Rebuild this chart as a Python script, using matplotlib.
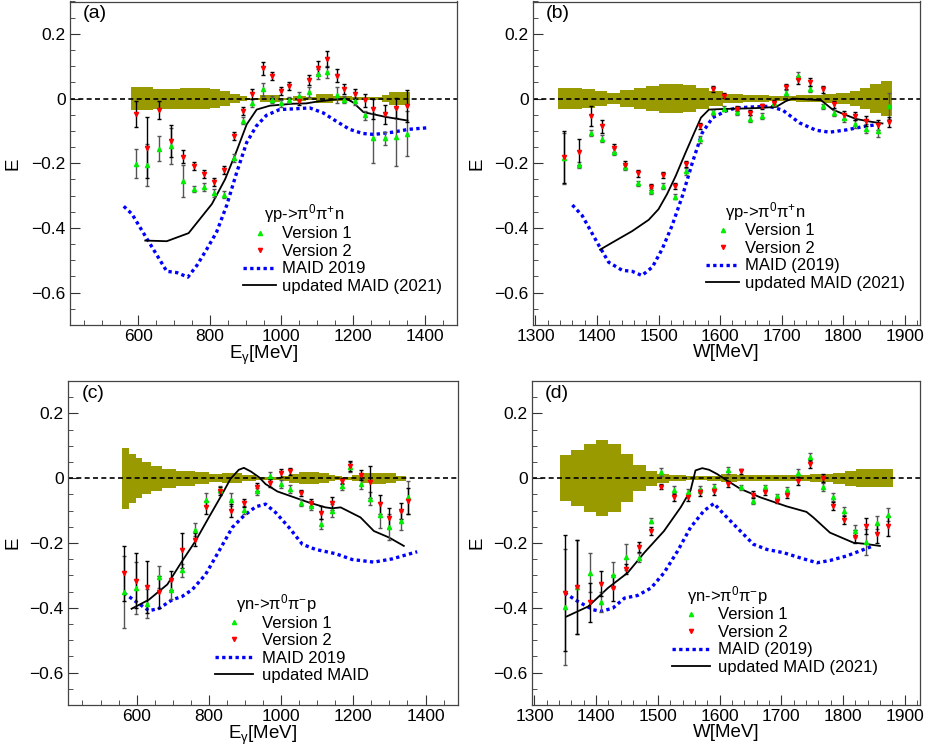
import matplotlib
matplotlib.use("Agg")
import matplotlib.pyplot as plt
from matplotlib.ticker import MultipleLocator, FuncFormatter
from matplotlib.lines import Line2D

plt.rcParams['font.family'] = ['Liberation Sans', 'DejaVu Sans']
plt.rcParams['mathtext.default'] = 'regular'

# ---- panel (a): gamma p -> pi0 pi+ n vs E_gamma ----
a_x = [593, 625, 659, 693, 724, 755, 784, 812, 841, 869, 894, 919, 949, 974, 999, 1022,
       1048, 1077, 1102, 1128, 1154, 1176, 1205, 1233, 1256, 1289, 1321, 1350]
a_v1 = [-0.201, -0.205, -0.155, -0.147, -0.254, -0.280, -0.273, -0.293, -0.297, -0.183,
        -0.068, -0.013, 0.028, -0.003, -0.015, -0.005, 0.009, 0.021, 0.075, 0.082, 0.012,
        -0.003, -0.009, -0.052, -0.123, -0.123, -0.119, -0.109]
a_v1_err = [0.045, 0.065, 0.038, 0.055, 0.05, 0.01, 0.012, 0.012, 0.01, 0.012, 0.012, 0.012,
            0.02, 0.012, 0.012, 0.01, 0.012, 0.015, 0.015, 0.02, 0.025, 0.012, 0.012, 0.015,
            0.077, 0.02, 0.09, 0.07]
a_v2 = [-0.047, -0.152, -0.036, -0.131, -0.180, -0.208, -0.234, -0.257, -0.220, -0.116,
        -0.039, 0.015, 0.094, 0.069, 0.023, 0.038, -0.008, 0.058, 0.095, 0.123, 0.071,
        0.030, 0.015, -0.006, -0.032, -0.049, -0.029, -0.024]
a_v2_err = [0.04, 0.095, 0.027, 0.05, 0.02, 0.012, 0.012, 0.012, 0.012, 0.012, 0.012, 0.015,
            0.02, 0.012, 0.012, 0.012, 0.012, 0.015, 0.02, 0.025, 0.02, 0.015, 0.015, 0.02,
            0.03, 0.03, 0.03, 0.05]
a_band_edges = [581, 643, 717, 801, 829, 856, 884, 903, 940, 995, 1031, 1069, 1097, 1143,
                1198, 1240, 1281, 1300, 1359]
a_band_hw = [0.036, 0.031, 0.033, 0.028, 0.022, 0.015, 0.008, 0.003, 0.01, 0.003, 0.008,
             0.004, 0.015, 0.008, 0.004, 0.005, 0.01, 0.02]
a_maid19_x = [560, 583, 625, 680, 708, 739, 764, 792, 819, 847, 875, 903, 930, 958, 995,
              1032, 1079, 1116, 1153, 1190, 1227, 1259, 1310, 1356, 1412]
a_maid19_y = [-0.333, -0.357, -0.434, -0.534, -0.538, -0.552, -0.516, -0.465, -0.413, -0.331,
              -0.229, -0.136, -0.085, -0.052, -0.034, -0.032, -0.029, -0.044, -0.070, -0.095,
              -0.108, -0.111, -0.104, -0.095, -0.090]
a_maid21_x = [620, 680, 741, 806, 843, 875, 903, 931, 968, 1032, 1069, 1102, 1150, 1180,
              1200, 1229, 1292, 1352]
a_maid21_y = [-0.439, -0.441, -0.416, -0.326, -0.249, -0.162, -0.080, -0.034, -0.022, -0.016,
              -0.015, -0.009, -0.003, 0.0, -0.012, -0.042, -0.057, -0.068]

# ---- panel (b): gamma p -> pi0 pi+ n vs W ----
b_x = [1346, 1371, 1390, 1408, 1427, 1446, 1466, 1487, 1507, 1527, 1545, 1568, 1588, 1607,
       1628, 1648, 1668, 1688, 1708, 1727, 1747, 1767, 1785, 1802, 1819, 1837, 1857, 1875]
b_v1 = [-0.185, -0.206, -0.106, -0.124, -0.164, -0.213, -0.262, -0.286, -0.270, -0.303,
        -0.225, -0.126, -0.042, -0.031, -0.042, -0.062, -0.054, -0.015, 0.017, 0.071, 0.030,
        -0.024, -0.044, -0.059, -0.078, -0.093, -0.100, -0.024]
b_v1_err = [0.08, 0.01, 0.01, 0.01, 0.01, 0.008, 0.008, 0.008, 0.01, 0.008, 0.01, 0.01,
            0.008, 0.008, 0.008, 0.01, 0.008, 0.008, 0.008, 0.012, 0.01, 0.008, 0.01, 0.012,
            0.012, 0.015, 0.02, 0.04]
b_v2 = [-0.180, -0.165, -0.054, -0.085, -0.154, -0.204, -0.231, -0.274, -0.237, -0.270,
        -0.202, -0.085, 0.030, 0.009, -0.031, -0.044, -0.024, -0.013, 0.036, 0.058, 0.052,
        0.028, -0.018, -0.050, -0.054, -0.070, -0.082, -0.073]
b_v2_err = [0.08, 0.04, 0.03, 0.02, 0.012, 0.01, 0.01, 0.01, 0.01, 0.01, 0.01, 0.01, 0.01,
            0.008, 0.008, 0.008, 0.008, 0.008, 0.008, 0.012, 0.012, 0.01, 0.01, 0.012, 0.012,
            0.015, 0.015, 0.015]
b_band_edges = [1337, 1376, 1397, 1416, 1438, 1460, 1479, 1501, 1539, 1561, 1582, 1604,
                1637, 1680, 1724, 1767, 1789, 1811, 1827, 1843, 1862, 1879]
b_band_hw = [0.033, 0.028, 0.022, 0.018, 0.025, 0.033, 0.039, 0.045, 0.042, 0.033, 0.023,
             0.015, 0.01, 0.007, 0.01, 0.013, 0.017, 0.023, 0.033, 0.045, 0.055]
b_maid19_x = [1360, 1376, 1403, 1419, 1441, 1457, 1473, 1490, 1506, 1522, 1539, 1555, 1571,
              1588, 1609, 1626, 1653, 1680, 1702, 1729, 1756, 1778, 1805, 1832, 1857]
b_maid19_y = [-0.329, -0.362, -0.454, -0.506, -0.531, -0.534, -0.547, -0.521, -0.465, -0.393,
              -0.300, -0.198, -0.106, -0.059, -0.039, -0.029, -0.026, -0.024, -0.036, -0.075,
              -0.098, -0.104, -0.097, -0.087, -0.080]
b_maid21_x = [1405, 1435, 1457, 1484, 1500, 1514, 1528, 1544, 1558, 1569, 1582, 1609, 1653,
              1691, 1707, 1718, 1764, 1783, 1802, 1821, 1843, 1864]
b_maid21_y = [-0.467, -0.434, -0.410, -0.375, -0.342, -0.295, -0.239, -0.167, -0.106, -0.059,
              -0.034, -0.032, -0.030, -0.026, -0.008, 0.0, -0.005, -0.034, -0.049, -0.063,
              -0.071, -0.077]

# ---- panel (c): gamma n -> pi0 pi- p vs E_gamma ----
c_x = [565, 599, 629, 662, 696, 726, 761, 791, 830, 862, 897, 932, 970, 999, 1025, 1054,
       1083, 1110, 1141, 1169, 1191, 1220, 1245, 1273, 1299, 1331, 1352]
c_v1 = [-0.351, -0.339, -0.387, -0.305, -0.344, -0.284, -0.159, -0.067, -0.035, -0.067,
        -0.097, -0.041, 0.008, -0.018, -0.033, -0.075, -0.085, -0.142, -0.100, -0.025, 0.034,
        -0.018, -0.064, -0.113, -0.150, -0.131, -0.059]
c_v1_err = [0.11, 0.08, 0.045, 0.035, 0.03, 0.02, 0.02, 0.02, 0.012, 0.02, 0.012, 0.01,
            0.012, 0.012, 0.012, 0.01, 0.012, 0.015, 0.02, 0.01, 0.015, 0.015, 0.02, 0.04,
            0.04, 0.03, 0.05]
c_v2 = [-0.294, -0.316, -0.335, -0.352, -0.315, -0.223, -0.190, -0.090, -0.040, -0.100,
        -0.077, -0.028, -0.014, 0.016, 0.021, -0.046, -0.075, -0.106, -0.077, -0.008, 0.037,
        0.010, -0.012, -0.081, -0.123, -0.101, -0.071]
c_v2_err = [0.085, 0.085, 0.08, 0.05, 0.03, 0.055, 0.02, 0.02, 0.012, 0.02, 0.012, 0.012,
            0.012, 0.012, 0.012, 0.01, 0.012, 0.02, 0.02, 0.01, 0.015, 0.015, 0.05, 0.03,
            0.03, 0.025, 0.04]
c_band_edges = [560, 580, 597, 616, 639, 671, 708, 763, 800, 837, 870, 893, 930, 966, 1000,
                1022, 1050, 1077, 1105, 1133, 1150, 1170, 1197, 1225, 1250, 1290, 1317, 1345]
c_band_hw = [0.094, 0.076, 0.061, 0.049, 0.039, 0.029, 0.023, 0.018, 0.013, 0.015, 0.015,
             0.01, 0.005, 0.005, 0.008, 0.014, 0.018, 0.019, 0.016, 0.01, 0.006, 0.005, 0.01,
             0.015, 0.017, 0.015, 0.008]
c_maid19_x = [565, 597, 634, 662, 699, 726, 754, 791, 828, 865, 897, 930, 957, 985, 1022,
              1059, 1096, 1151, 1197, 1257, 1308, 1345, 1377]
c_maid19_y = [-0.354, -0.380, -0.409, -0.402, -0.375, -0.365, -0.344, -0.297, -0.225, -0.152,
              -0.116, -0.088, -0.080, -0.106, -0.152, -0.204, -0.220, -0.233, -0.251, -0.259,
              -0.249, -0.237, -0.227]
c_maid21_x = [586, 634, 685, 726, 763, 800, 837, 860, 883, 897, 916, 939, 957, 990, 1031,
              1077, 1123, 1142, 1165, 1220, 1257, 1299, 1340]
c_maid21_y = [-0.403, -0.375, -0.328, -0.256, -0.194, -0.121, -0.049, -0.002, 0.026, 0.032,
              0.021, 0.003, -0.018, -0.041, -0.057, -0.075, -0.090, -0.093, -0.090, -0.121,
              -0.163, -0.183, -0.209]

# ---- panel (d): gamma n -> pi0 pi- p vs W ----
d_x = [1350, 1369, 1390, 1408, 1427, 1448, 1470, 1489, 1505, 1526, 1549, 1569, 1591, 1614,
       1635, 1655, 1674, 1693, 1709, 1727, 1746, 1767, 1784, 1802, 1820, 1838, 1856, 1873]
d_v1 = [-0.398, -0.335, -0.292, -0.382, -0.300, -0.242, -0.245, -0.131, 0.019, -0.035,
        -0.043, -0.035, -0.028, 0.024, -0.028, -0.069, -0.028, -0.056, -0.035, 0.017, 0.065,
        -0.028, -0.059, -0.102, -0.163, -0.196, -0.137, -0.113]
d_v1_err = [0.18, 0.145, 0.06, 0.03, 0.04, 0.04, 0.015, 0.008, 0.012, 0.01, 0.01, 0.01,
            0.01, 0.01, 0.008, 0.01, 0.008, 0.008, 0.008, 0.012, 0.012, 0.012, 0.012, 0.012,
            0.02, 0.04, 0.02, 0.02]
d_v2 = [-0.354, -0.335, -0.383, -0.325, -0.340, -0.280, -0.212, -0.163, -0.026, -0.059,
        -0.059, -0.044, -0.041, -0.018, 0.021, -0.051, -0.043, -0.069, -0.051, -0.009, 0.045,
        0.001, -0.085, -0.128, -0.181, -0.147, -0.171, -0.147]
d_v2_err = [0.18, 0.145, 0.06, 0.04, 0.04, 0.015, 0.015, 0.012, 0.008, 0.01, 0.01, 0.01,
            0.01, 0.008, 0.008, 0.01, 0.008, 0.008, 0.01, 0.012, 0.012, 0.012, 0.012, 0.012,
            0.02, 0.025, 0.03, 0.03]
d_band_edges = [1341, 1360, 1381, 1400, 1420, 1440, 1459, 1481, 1499, 1518, 1545, 1580,
                1602, 1628, 1666, 1709, 1747, 1784, 1803, 1822, 1881]
d_band_hw = [0.071, 0.087, 0.105, 0.117, 0.105, 0.074, 0.04, 0.023, 0.014, 0.01, 0.006,
             0.008, 0.012, 0.01, 0.009, 0.01, 0.013, 0.017, 0.023, 0.027]
d_maid19_x = [1349, 1370, 1395, 1408, 1427, 1446, 1467, 1489, 1510, 1532, 1553, 1575, 1591,
              1607, 1628, 1655, 1677, 1704, 1731, 1758, 1779, 1806, 1827, 1849]
d_maid19_y = [-0.354, -0.380, -0.406, -0.411, -0.401, -0.370, -0.362, -0.339, -0.292, -0.225,
              -0.152, -0.100, -0.078, -0.111, -0.152, -0.204, -0.220, -0.230, -0.246, -0.261,
              -0.254, -0.240, -0.225, -0.209]
d_maid21_x = [1352, 1387, 1419, 1451, 1478, 1510, 1537, 1553, 1561, 1572, 1583, 1596, 1612,
              1634, 1666, 1709, 1741, 1752, 1779, 1817, 1833, 1860]
d_maid21_y = [-0.427, -0.396, -0.339, -0.292, -0.230, -0.163, -0.090, -0.038, 0.024, 0.031,
              0.026, 0.013, -0.007, -0.033, -0.059, -0.087, -0.104, -0.121, -0.168, -0.199,
              -0.202, -0.209]

BAND = '#999900'
GREEN = '#00ee00'
RED = '#ff0000'
BLUE = '#0000ff'
MS = 3.0
LEG_FS = 12


def y_fmt(v, _):
    if abs(v) < 1e-9:
        return '0'
    return f'{v:.1f}'.replace('-', '\u2212')


def draw_panel(ax, x, v1, v1e, v2, v2e, bedges, bhw, m19x, m19y, m21x, m21y, xlim, major, minor):
    ax.stairs(bhw, bedges, baseline=[-h for h in bhw], fill=True, color=BAND, lw=0, zorder=1)
    ax.axhline(0, color='black', ls=(0, (3, 2)), lw=1.2, zorder=2)
    ax.plot(m19x, m19y, color=BLUE, ls=(0, (1, 1)), lw=2.4, zorder=3)
    ax.plot(m21x, m21y, color='black', lw=1.3, zorder=3)
    ax.errorbar(x, v1, yerr=v1e, fmt='none', ecolor='#555555', elinewidth=1.0, capsize=1.6, zorder=4)
    ax.errorbar(x, v2, yerr=v2e, fmt='none', ecolor='black', elinewidth=1.0, capsize=1.6, zorder=4)
    ax.plot(x, v1, '^', color=GREEN, ms=MS, mec=GREEN, zorder=5)
    ax.plot(x, v2, 'v', color=RED, ms=MS, mec=RED, zorder=5)

    ax.set_xlim(*xlim)
    ax.set_ylim(-0.7, 0.3)
    ax.xaxis.set_major_locator(MultipleLocator(major))
    ax.xaxis.set_minor_locator(MultipleLocator(minor))
    ax.yaxis.set_major_locator(MultipleLocator(0.2))
    ax.yaxis.set_minor_locator(MultipleLocator(0.05))
    ax.yaxis.set_major_formatter(FuncFormatter(y_fmt))
    ax.tick_params(which='both', direction='in', top=False, right=False, labelsize=12.5,
                   color='#333333')
    ax.tick_params(which='major', length=7, pad=3)
    ax.tick_params(which='minor', length=3.5)
    for s in ax.spines.values():
        s.set_color('#444444')
        s.set_linewidth(0.9)


def add_legend(ax, title, labels, tx, ty, lx, ly, hlen, hpad):
    ax.text(tx, ty, title, transform=ax.transAxes, ha='left', va='center', fontsize=LEG_FS)
    handles = [Line2D([], [], ls='none', marker='^', color=GREEN, ms=MS),
               Line2D([], [], ls='none', marker='v', color=RED, ms=MS),
               Line2D([], [], color=BLUE, ls=(0, (1, 1)), lw=2.4),
               Line2D([], [], color='black', lw=1.3)]
    ax.legend(handles, labels, loc='upper left', bbox_to_anchor=(lx, ly), frameon=False,
              fontsize=LEG_FS, borderpad=0, borderaxespad=0, handlelength=hlen,
              handletextpad=hpad, labelspacing=0.15)


fig = plt.figure(figsize=(9.3, 7.49), dpi=100)
W, H = 930, 749


def px_axes(left, top, right, bottom):
    return fig.add_axes([left / W, 1 - bottom / H, (right - left) / W, (bottom - top) / H])


ax_a = px_axes(70, 1.5, 457, 325)
ax_b = px_axes(533, 1.5, 920, 325)
ax_c = px_axes(68, 381, 458, 705)
ax_d = px_axes(532, 381, 920, 705)

draw_panel(ax_a, a_x, a_v1, a_v1_err, a_v2, a_v2_err, a_band_edges, a_band_hw,
           a_maid19_x, a_maid19_y, a_maid21_x, a_maid21_y, (410, 1490), 200, 50)
draw_panel(ax_b, b_x, b_v1, b_v1_err, b_v2, b_v2_err, b_band_edges, b_band_hw,
           b_maid19_x, b_maid19_y, b_maid21_x, b_maid21_y, (1296, 1925), 100, 20)
draw_panel(ax_c, c_x, c_v1, c_v1_err, c_v2, c_v2_err, c_band_edges, c_band_hw,
           c_maid19_x, c_maid19_y, c_maid21_x, c_maid21_y, (410, 1490), 200, 50)
draw_panel(ax_d, d_x, d_v1, d_v1_err, d_v2, d_v2_err, d_band_edges, d_band_hw,
           d_maid19_x, d_maid19_y, d_maid21_x, d_maid21_y, (1296, 1925), 100, 20)

for ax, lab in zip([ax_a, ax_b, ax_c, ax_d], ['(a)', '(b)', '(c)', '(d)']):
    ax.text(0.034, 0.988, lab, transform=ax.transAxes, ha='left', va='top', fontsize=14)

ax_a.set_xlabel('E$_{γ}$[MeV]', fontsize=13.5, labelpad=0)
ax_c.set_xlabel('E$_{γ}$[MeV]', fontsize=13.5, labelpad=0)
ax_b.set_xlabel('W[MeV]', fontsize=13.5, labelpad=0)
ax_d.set_xlabel('W[MeV]', fontsize=13.5, labelpad=0)

fig.text(13 / W, 1 - 164 / H, 'E', rotation=90, ha='center', va='center', fontsize=13.5)
fig.text(477 / W, 1 - 164 / H, 'E', rotation=90, ha='center', va='center', fontsize=13.5)
fig.text(13 / W, 1 - 543 / H, 'E', rotation=90, ha='center', va='center', fontsize=13.5)
fig.text(477 / W, 1 - 543 / H, 'E', rotation=90, ha='center', va='center', fontsize=13.5)

add_legend(ax_a, 'γp->π$^{0}$π$^{+}$n', ['Version 1', 'Version 2', 'MAID 2019', 'updated MAID (2021)'],
           0.501, 0.345, 0.447, 0.3045, 2.0, 0.36)
add_legend(ax_b, 'γp->π$^{0}$π$^{+}$n', ['Version 1', 'Version 2', 'MAID (2019)', 'updated MAID (2021)'],
           0.496, 0.351, 0.447, 0.314, 2.0, 0.36)
add_legend(ax_c, 'γn->π$^{0}$π$^{-}$p', ['Version 1', 'Version 2', 'MAID 2019', 'updated MAID'],
           0.431, 0.314, 0.377, 0.276, 2.3, 0.54)
add_legend(ax_d, 'γn->π$^{0}$π$^{-}$p', ['Version 1', 'Version 2', 'MAID (2019)', 'updated MAID (2021)'],
           0.399, 0.338, 0.361, 0.301, 2.3, 0.48)

fig.savefig('out.png', dpi=100)
